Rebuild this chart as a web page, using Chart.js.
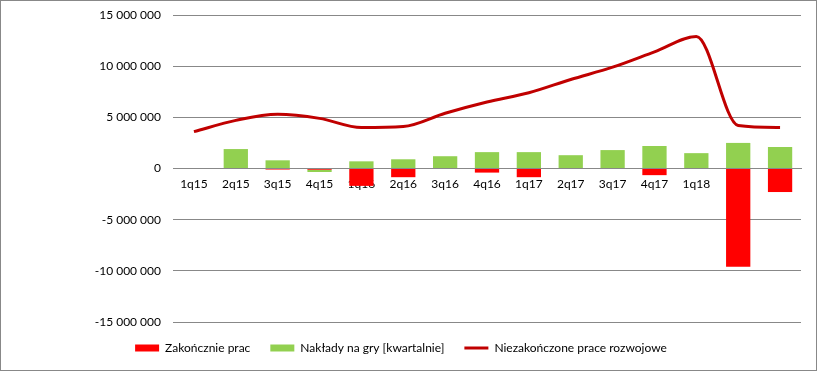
<!DOCTYPE html>
<html>
<head>
<meta charset="utf-8">
<script src="https://cdn.jsdelivr.net/npm/chart.js@4"></script>
<style>
  body { margin: 0; background: #fff; }
  #wrap { width: 817px; height: 371px; box-sizing: border-box; border: 1px solid #888; }
</style>
</head>
<body>
<div id="wrap"><canvas id="chart" width="815" height="369"></canvas></div>
<script>
const kwartaly = ["1q15", "2q15", "3q15", "4q15", "1q16", "2q16", "3q16", "4q16", "1q17", "2q17", "3q17", "4q17", "1q18", "", ""];
// Zakończnie prac
const zakonczenie = [0, 0, -100000, -120000, -1700000, -850000, 0, -400000, -850000, 0, 0, -650000, 0, -9600000, -2300000];
// Nakłady na gry [kwartalnie]
const naklady = [0, 1900000, 800000, -220000, 700000, 900000, 1200000, 1600000, 1600000, 1300000, 1800000, 2200000, 1500000, 2500000, 2100000];
// Niezakończone prace rozwojowe
const niezakonczone = [3600000, 4700000, 5300000, 4900000, 4000000, 4100000, 5400000, 6500000, 7400000, 8700000, 9900000, 11400000, 12900000, 4200000, 4000000];

const fmt = v => String(Math.round(v)).replace(/\B(?=(\d{3})+(?!\d))/g, " ");
const font = { family: "Lato", size: 12 };

new Chart(document.getElementById("chart"), {
    type: "bar",
    data: {
        labels: kwartaly,
        datasets: [
            {
                label: "Zakończnie prac",
                data: zakonczenie,
                backgroundColor: "#FF0000",
                barPercentage: 0.58,
                categoryPercentage: 1
            },
            {
                label: "Nakłady na gry [kwartalnie]",
                data: naklady,
                backgroundColor: "#92D050",
                barPercentage: 0.58,
                categoryPercentage: 1
            },
            {
                type: "line",
                label: "Niezakończone prace rozwojowe",
                data: niezakonczone,
                stack: "line",
                borderColor: "#C00000",
                backgroundColor: "#C00000",
                borderWidth: 3,
                pointRadius: 0,
                cubicInterpolationMode: "monotone",
                fill: false
            }
        ]
    },
    options: {
        responsive: false,
        animation: false,
        layout: { padding: { top: 14, right: 15, bottom: 6, left: 0 } },
        scales: {
            x: {
                stacked: true,
                position: { y: 0 },
                grid: { display: false, drawTicks: false },
                border: { display: true, color: "#888" },
                ticks: { color: "#000", font: font, padding: 8, maxRotation: 0, autoSkip: false }
            },
            y: {
                stacked: true,
                min: -15000000,
                max: 15000000,
                grid: { color: "#888", drawTicks: false },
                border: { display: false },
                ticks: { stepSize: 5000000, color: "#000", font: font, padding: 12, callback: v => fmt(v) },
                afterFit: s => { s.width = 172; s.paddingTop = 0; s.paddingBottom = 0; }
            }
        },
        plugins: {
            tooltip: { enabled: false },
            legend: {
                position: "bottom",
                labels: {
                    color: "#000",
                    font: font,
                    usePointStyle: true,
                    pointStyleWidth: 24,
                    boxWidth: 24,
                    boxHeight: 7,
                    padding: 20,
                    generateLabels: chart => chart.data.datasets.map((d, i) => ({
                        text: d.label,
                        fillStyle: d.backgroundColor,
                        strokeStyle: d.type === "line" ? d.borderColor : d.backgroundColor,
                        lineWidth: d.type === "line" ? 3 : 0,
                        pointStyle: d.type === "line" ? "line" : "rect",
                        fontColor: "#000",
                        datasetIndex: i
                    }))
                }
            }
        }
    }
});
</script>
</body>
</html>
